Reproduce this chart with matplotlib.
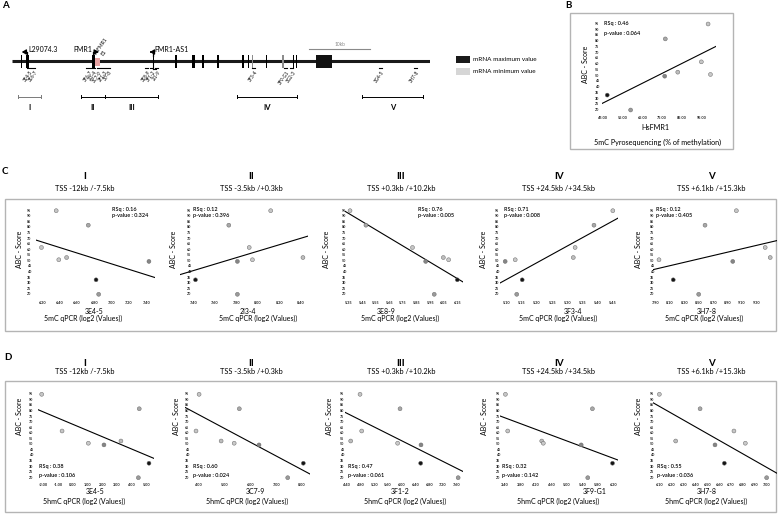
import numpy as np
import matplotlib
matplotlib.use('Agg')
import matplotlib.pyplot as plt
from matplotlib.patches import Rectangle
from matplotlib.transforms import blended_transform_factory

plt.rcParams['font.family'] = ['Lato', 'DejaVu Sans']

# ---------------- data ----------------
abc_score = [95, 82, 62, 53, 51, 49.5, 33, 20]          # 8 samples
mrna_shade = ['#c6c6c6', '#a8a8a8', '#c6c6c6', '#bdbdbd', '#c9c9c9', '#858585', '#141414', '#9a9a9a']
y_ticks = [20, 25, 30, 35, 40, 45, 50, 55, 60, 65, 70, 75, 80, 85, 90, 95]

# Panel B
b_pyro = [98.2, 76.6, 94.8, 82.9, 99.4, 76.3, 47.3, 59.1]
b_xticks = [45, 55, 65, 75, 85, 95]
b_rsq, b_pval = '0.46', '0.064'

# Panel C (5mC qPCR)
region_names = ['I', 'II', 'III', 'IV', 'V']
region_tss = ['TSS -12kb /-7.5kb', 'TSS -3.5kb /+0.3kb', 'TSS +0.3kb /+10.2kb',
              'TSS +24.5kb /+34.5kb', 'TSS +6.1kb /+15.3kb']
c_primers = ['3E4-5', '2I3-4', '3E8-9', '3F3-4', '3H7-8']
c_rsq = ['0.16', '0.12', '0.76', '0.71', '0.12']
c_pval = ['0.324', '0.396', '0.005', '0.008', '0.405']
c_I = [6.36, 6.73, 6.19, 6.48, 6.39, 7.43, 6.82, 6.85]
c_II = [8.12, 7.73, 7.92, 8.42, 7.95, 7.81, 7.42, 7.81]
c_III = [5.36, 5.477, 5.82, 6.047, 6.086, 5.917, 6.15, 5.98]
c_IV = [5.449, 5.387, 5.325, 5.319, 5.128, 5.095, 5.151, 5.133]
c_V = [9.02, 8.585, 9.42, 9.49, 7.946, 8.97, 8.144, 8.497]
c_xticks = [[6.20, 6.40, 6.60, 6.80, 7.00, 7.20, 7.40],
            [7.40, 7.60, 7.80, 8.00, 8.20, 8.40],
            [5.35, 5.45, 5.55, 5.65, 5.75, 5.85, 5.95, 6.05, 6.15],
            [5.10, 5.15, 5.20, 5.25, 5.30, 5.35, 5.40, 5.45],
            [7.90, 8.10, 8.30, 8.50, 8.70, 8.90, 9.10, 9.30]]

# Panel D (5hmC qPCR)
d_primers = ['3E4-5', '3C7-9', '3F1-2', '3F9-G1', '3H7-8']
d_rsq = ['0.38', '0.60', '0.47', '0.32', '0.55']
d_pval = ['0.106', '0.024', '0.061', '0.142', '0.036']
d_I = [-2.11, 4.50, -0.73, 3.26, 1.05, 2.11, 5.16, 4.44]
d_II = [3.99, 5.56, 3.87, 4.85, 5.36, 6.33, 8.06, 7.45]
d_III = [4.787, 5.95, 4.836, 4.516, 5.88, 6.56, 6.55, 7.64]
d_IV = [3.41, 5.66, 3.47, 4.35, 4.39, 5.37, 6.18, 5.54]
d_V = [6.094, 6.438, 6.724, 6.232, 6.82, 6.564, 6.643, 7.00]
d_xticks = [[-2, -1, 0, 1, 2, 3, 4, 5],
            [4, 5, 6, 7, 8],
            [4.40, 4.80, 5.20, 5.60, 6.00, 6.40, 6.80, 7.20, 7.60],
            [3.40, 3.80, 4.20, 4.60, 5.00, 5.40, 5.80, 6.20],
            [6.10, 6.20, 6.30, 6.40, 6.50, 6.60, 6.70, 6.80, 6.90, 7.00]]

# Panel A gene map (kb)
exon_kb = [1.65, 2.57, 13.44, 23.33, 27.02, 29.8, 30.05, 31.47, 34.04, 38.1, 38.98, 39.64,
           42.0, 44.74, 46.39, 46.95]
exon_w = [0.15, 0.45, 0.45, 0.2, 0.25, 0.25, 0.25, 0.35, 0.35, 0.25, 0.25, 0.25, 0.2, 0.35, 0.25, 0.25]
exon_col = ['k', 'k', 'k', 'k', 'k', 'k', 'k', 'k', 'k', 'k', 'k', '#8c8c8c', 'k', '#8c8c8c', 'k', 'k']
last_exon_kb = (50.13, 52.72)
gene_len_kb = 68.9
primer_names = ['3E4-5', '3E6-7', '3F6-7', '2I3-4', '3C7-9', '2F1-3', '3I7-8', '3E8-9', '3F1-2',
                '2I1-9', '3F3-4', '3F9-G1', '3G2-3', '3G4-5', '3H7-8']
primer_kb = [2.69, 3.51, 12.57, 13.39, 14.22, 15.04, 15.86, 22.24, 23.06, 23.89, 39.8, 45.03,
             46.13, 60.68, 66.45]
region_kb = [(1.09, 4.83), (11.37, 15.37), (15.37, 24.15), (37.17, 46.95), (57.76, 67.71)]

# ---------------- figure ----------------
W, H = 779, 514
fig = plt.figure(figsize=(W / 100, H / 100), dpi=100)


def px_rect(x0, y0, x1, y1):
    return [x0 / W, 1 - y1 / H, (x1 - x0) / W, (y1 - y0) / H]


ov = fig.add_axes([0, 0, 1, 1])
ov.set_xlim(0, W)
ov.set_ylim(H, 0)
ov.axis('off')

box_col = '#b4b4b4'
ov.add_patch(Rectangle((5, 199), 771, 132, fill=False, ec=box_col, lw=1.0))
ov.add_patch(Rectangle((5, 381), 771, 131, fill=False, ec=box_col, lw=1.0))
ov.add_patch(Rectangle((570, 13.3), 163.3, 135.7, fill=False, ec=box_col, lw=1.0))

for lab, (x, y) in zip(['A', 'B', 'C', 'D'], [(2, 5), (565, 5), (2, 172), (4, 357)]):
    ov.text(x, y, lab, fontsize=7, fontweight='bold', ha='left', va='center')


def scatter_axes(xvals, xlim, xpx, y95, y20, xticks, ylab_cx, fmt='%.2f', pad_x=2.0):
    k = (y20 - y95) / 75.0
    top = y95 - 3 * k
    bot = y20 + 3 * k
    ax = fig.add_axes(px_rect(xpx[0], top, xpx[1], bot))
    ax.patch.set_alpha(0)
    ax.set_xlim(xlim)
    ax.set_ylim(17, 98)
    for s in ax.spines.values():
        s.set_visible(False)
    slope, icpt = np.polyfit(xvals, abc_score, 1)
    xx = np.array(xlim)
    ax.plot(xx, icpt + slope * xx, color='black', lw=0.8, zorder=2)
    ax.scatter(xvals, abc_score, s=8, c=mrna_shade, edgecolors='#6a6a6a', linewidths=0.35,
               zorder=3, clip_on=False)
    ax.set_xticks(xticks)
    ax.set_xticklabels([fmt % t for t in xticks])
    ax.tick_params(axis='x', length=0, labelsize=2.8, pad=pad_x, colors='#222222')
    for t in ax.get_xticklabels():
        t.set_fontweight('bold')
    ax.set_yticks([])
    tr = blended_transform_factory(ov.transData, ax.transData)
    for v in y_ticks:
        ax.text(ylab_cx, v, str(v), transform=tr, fontsize=2.6, fontweight='bold',
                color='#222222', ha='center', va='center')
    return ax


# ---------------- Panel B ----------------
scatter_axes(b_pyro, (44.5, 102.2), (601.7, 716), 24, 110, b_xticks, 596.7, fmt='%.2f', pad_x=2.0)
ov.text(604, 24, 'RSq : ' + b_rsq, fontsize=4, fontweight='semibold', va='center')
ov.text(604, 33, 'p-value : ' + b_pval, fontsize=4, fontweight='semibold', va='center')
ov.text(586, 64, 'ABC - Score', fontsize=5, rotation=90, ha='center', va='center')
ov.text(655, 128, 'HsFMR1', fontsize=5.2, ha='center', va='center')
ov.text(657.5, 142, '5mC Pyrosequencing (% of methylation)', fontsize=5.2, ha='center', va='center')

# ---------------- Panel C ----------------
c_vals = [c_I, c_II, c_III, c_IV, c_V]
c_xlim = [(6.127, 7.50), (7.276, 8.467), (5.323, 6.194), (5.078, 5.467), (7.867, 9.58)]
c_xpx = [(36, 155), (180, 308), (345, 463.3), (500, 618.3), (653.3, 776.7)]
c_ytick_x = [29.3, 188.7, 344, 497.3, 651.7]
title_cx = [85, 251, 401, 559, 711]
c_prim_cx = [94.3, 248, 386, 573.3, 706.7]
c_sub_cx = [83, 258, 400, 558, 704]
c_rsq_x = [111.7, 193.3, 418.3, 504, 655.7]
c_ylab_x = [20, 173.3, 326.7, 483.3, 638.3]
for i in range(5):
    scatter_axes(c_vals[i], c_xlim[i], c_xpx[i], 210.7, 294.3, c_xticks[i], c_ytick_x[i], pad_x=2.3)
    ov.text(title_cx[i], 176.5, region_names[i], fontsize=7, fontweight='bold', ha='center', va='center')
    ov.text(title_cx[i], 188.3, region_tss[i], fontsize=5.3, ha='center', va='center')
    ov.text(c_prim_cx[i], 311, c_primers[i], fontsize=5, ha='center', va='center')
    ov.text(c_sub_cx[i], 318.5, '5mC qPCR (log2 (Values))', fontsize=5, ha='center', va='center')
    ov.text(c_rsq_x[i], 209.3, 'RSq : ' + c_rsq[i], fontsize=4, fontweight='semibold', va='center')
    ov.text(c_rsq_x[i], 216.0, 'p-value : ' + c_pval[i], fontsize=4, fontweight='semibold', va='center')
    ov.text(c_ylab_x[i], 249, 'ABC - Score', fontsize=5, rotation=90, ha='center', va='center')

# ---------------- Panel D ----------------
d_vals = [d_I, d_II, d_III, d_IV, d_V]
d_xlim = [(-2.34, 5.50), (3.44, 8.32), (4.35, 7.79), (3.27, 6.33), (6.043, 7.085)]
d_xpx = [(38.3, 154), (185, 310), (345, 463.3), (500, 618.3), (653.3, 776.7)]
d_ytick_x = [30.7, 186.7, 341.7, 498.3, 651.7]
d_prim_cx = [95, 255, 400, 595, 706.7]
d_sub_cx = [84, 247, 405, 558, 706]
d_rsq_x = [39.3, 193.3, 348.3, 502, 656.7]
d_ylab_x = [20, 176.7, 330, 485, 638.3]
for i in range(5):
    scatter_axes(d_vals[i], d_xlim[i], d_xpx[i], 394.3, 477.7, d_xticks[i], d_ytick_x[i], pad_x=1.5)
    ov.text(title_cx[i], 363.3, region_names[i], fontsize=7, fontweight='bold', ha='center', va='center')
    ov.text(title_cx[i], 371, region_tss[i], fontsize=5.3, ha='center', va='center')
    ov.text(d_prim_cx[i], 492, d_primers[i], fontsize=5, ha='center', va='center')
    ov.text(d_sub_cx[i], 501, '5hmC qPCR (log2 (Values))', fontsize=5, ha='center', va='center')
    ov.text(d_rsq_x[i], 466.5, 'RSq : ' + d_rsq[i], fontsize=4, fontweight='semibold', va='center')
    ov.text(d_rsq_x[i], 476.0, 'p-value : ' + d_pval[i], fontsize=4, fontweight='semibold', va='center')
    ov.text(d_ylab_x[i], 416, 'ABC - Score', fontsize=5, rotation=90, ha='center', va='center')

# ---------------- Panel A: gene map ----------------
ga = fig.add_axes(px_rect(11.7, 40, 430, 115))
ga.set_xlim(0, gene_len_kb)
ga.set_ylim(115, 40)
ga.axis('off')
ga.patch.set_alpha(0)
ga.plot([0, gene_len_kb], [61, 61], color='#1a1a1a', lw=2.2, solid_capstyle='butt', zorder=1)
for x, w, c in zip(exon_kb, exon_w, exon_col):
    ga.add_patch(Rectangle((x - w / 2, 55), w, 12.7, color=c, zorder=2, lw=0))
ga.add_patch(Rectangle((last_exon_kb[0], 55), last_exon_kb[1] - last_exon_kb[0], 13, color='#111111', zorder=2, lw=0))
# HsFMR1 E1 pyrosequencing region
ga.add_patch(Rectangle((13.8, 57.5), 0.7, 8.5, color='#e8a3a3', zorder=3, lw=0))
ga.text(14.1, 55.5, 'HsFMR1', fontsize=3.6, rotation=55, ha='left', va='bottom', rotation_mode='anchor')
ga.text(15.3, 56.5, 'E1', fontsize=3.6, rotation=55, ha='left', va='bottom', rotation_mode='anchor')
# TSS arrows
ga.plot([2.57, 2.57], [56, 52], color='k', lw=0.9)
ga.annotate('', xy=(1.2, 52), xytext=(2.65, 52),
            arrowprops=dict(arrowstyle='-|>,head_length=0.25,head_width=0.15', color='k', lw=0.9))
ga.text(2.75, 49.3, 'L29074.3', fontsize=5, ha='left', va='center')
ga.plot([13.44, 13.44], [56, 52], color='k', lw=0.9)
ga.annotate('', xy=(14.8, 52), xytext=(13.36, 52),
            arrowprops=dict(arrowstyle='-|>,head_length=0.25,head_width=0.15', color='k', lw=0.9))
ga.text(13.2, 49.5, 'FMR1', fontsize=5, ha='right', va='center')
ga.plot([23.33, 23.33], [56, 52], color='k', lw=0.9)
ga.plot([23.33, 23.7], [69, 69], color='k', lw=0.8)
ga.plot([23.33, 23.33], [61, 69], color='k', lw=0.8)
ga.annotate('', xy=(22.3, 52), xytext=(23.4, 52),
            arrowprops=dict(arrowstyle='-|>,head_length=0.25,head_width=0.15', color='k', lw=0.9))
ga.text(23.5, 49.3, 'FMR1-AS1', fontsize=5, ha='left', va='center')
# scale bar
ga.plot([49.03, 59.03], [49, 49], color='#8a8a8a', lw=0.8)
ga.text(54.0, 45, '10kb', fontsize=3.5, color='#8a8a8a', ha='center', va='center')
# primers
for name, x in zip(primer_names, primer_kb):
    ga.plot([x - 0.25, x + 0.25], [68.3, 68.3], color='k', lw=0.8)
    ga.text(x + 0.2, 70, name, fontsize=3.3, rotation=55, ha='right', va='top', rotation_mode='anchor')
# regions
for j, ((a, b), name) in enumerate(zip(region_kb, region_names)):
    col = '#7a7a7a' if j == 0 else 'k'
    ga.plot([a, b], [96.7, 96.7], color=col, lw=0.7)
    ga.plot([a, a], [95, 98.4], color=col, lw=0.7)
    ga.plot([b, b], [95, 98.4], color=col, lw=0.7)
    ga.text((a + b) / 2, 107.3, name, fontsize=5.5, fontweight='bold', ha='center', va='center')

# legend
ov.add_patch(Rectangle((456, 56), 14, 6.7, color='#1a1a1a', lw=0))
ov.add_patch(Rectangle((456, 68.3), 14, 6.7, color='#d6d6d6', lw=0))
ov.text(473, 59.3, 'mRNA maximum value', fontsize=4.6, ha='left', va='center')
ov.text(473, 71.7, 'mRNA minimum value', fontsize=4.6, ha='left', va='center')

fig.savefig('out.png', dpi=100)
